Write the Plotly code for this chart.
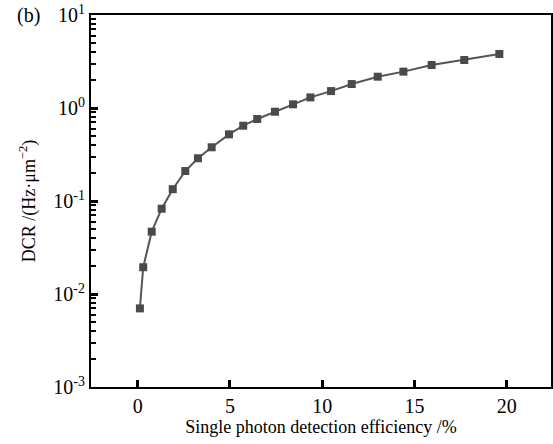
import plotly.graph_objects as go

efficiency = [0.12, 0.30, 0.76, 1.30, 1.90, 2.58, 3.27, 4.01, 4.95, 5.72, 6.48,
              7.44, 8.42, 9.36, 10.48, 11.60, 13.01, 14.40, 15.93, 17.70, 19.60]
dcr = [0.0070, 0.0194, 0.0468, 0.0826, 0.134, 0.210, 0.288, 0.378, 0.521, 0.645, 0.762,
       0.912, 1.096, 1.30, 1.52, 1.81, 2.17, 2.46, 2.90, 3.28, 3.81]

y_tickvals = [0.001, 0.01, 0.1, 1, 10]
y_ticktext = ["10<sup>-3</sup>", "10<sup>-2</sup>", "10<sup>-1</sup>", "10<sup>0</sup>", "10<sup>1</sup>"]
y_minor = [m * d for d in [0.001, 0.01, 0.1, 1] for m in range(2, 10)]
x_tickvals = [0, 5, 10, 15, 20]

FONT = "Liberation Serif"

fig = go.Figure()
fig.add_trace(go.Scatter(
    x=efficiency, y=dcr, mode="lines+markers",
    line=dict(color="#555555", width=2),
    marker=dict(symbol="square", size=8, color="#4a4a4a"),
    showlegend=False,
))

fig.update_layout(
    template="none",
    width=553, height=444,
    margin=dict(l=91, r=2, t=15, b=57),
    paper_bgcolor="white", plot_bgcolor="white",
    font=dict(family=FONT, size=19, color="black"),
    xaxis=dict(
        range=[-2.53, 22.4], tickmode="array", tickvals=x_tickvals, automargin=False,
        ticks="inside", ticklen=7, tickwidth=2.5, tickcolor="black",
        tickfont=dict(size=20),
        showline=True, linewidth=2, linecolor="black", mirror=True,
        showgrid=False, zeroline=False,
        title=dict(text="Single photon detection efficiency /%", standoff=0,
                   font=dict(size=18)),
    ),
    yaxis=dict(
        type="log", range=[-3, 1], automargin=False,
        tickmode="array", tickvals=y_tickvals, ticktext=y_ticktext,
        ticks="inside", ticklen=7, tickwidth=2.5, tickcolor="black",
        tickfont=dict(size=20),
        minor=dict(ticks="inside", ticklen=5, tickwidth=2, tickcolor="black",
                   tickmode="array", tickvals=y_minor, showgrid=False),
        showline=True, linewidth=2, linecolor="black", mirror=True,
        showgrid=False, zeroline=False,
        title=dict(text="DCR /(Hz·μm<sup>−2</sup>)", standoff=13,
                   font=dict(size=18)),
    ),
    annotations=[dict(text="(b)", xref="paper", yref="paper", x=-0.106, y=1.0,
                      xanchor="right", yanchor="middle", showarrow=False,
                      font=dict(family=FONT, size=20))],
)

fig.write_html("out.html", post_script="document.body.style.margin='0px';",
               config={"displayModeBar": False})
